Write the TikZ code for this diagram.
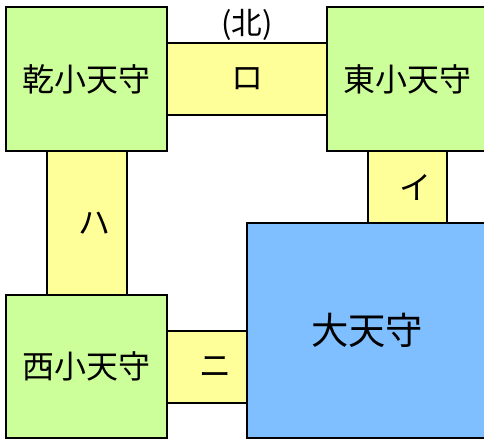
\documentclass[tikz,border=0pt]{standalone}
\usepackage{fontspec}
\newfontfamily\cjk{Noto Sans CJK JP}
\usepackage{xcolor}
\definecolor{keepgreen}{RGB}{204,255,153}
\definecolor{rokayellow}{RGB}{255,255,153}
\definecolor{daiblue}{RGB}{128,191,255}
\tikzset{
  keep/.style={draw=black,line width=1.5pt,inner sep=0pt,outer sep=0pt,font=\cjk\fontsize{24}{24}\selectfont},
  roka/.style={draw=black,line width=1.5pt,fill=rokayellow,inner sep=0pt,outer sep=0pt},
  lbl/.style={inner sep=0pt,font=\cjk\fontsize{24}{24}\selectfont}
}

\begin{document}
\begin{tikzpicture}[x=0.75pt,y=0.75pt,yscale=-1,xscale=1]
  \clip (0,0) rectangle (484,439);
  \fill[white] (0,0) rectangle (484,439);

  %Bridges
  \node[roka,minimum width=120pt,minimum height=54pt] (ro) at (247,79) {};
  \node[roka,minimum width=59.25pt,minimum height=54pt] (i) at (407.5,187) {};
  \node[roka,minimum width=60pt,minimum height=108pt] (ha) at (87,223) {};
  \node[roka,minimum width=60pt,minimum height=54pt] (ni) at (207,367) {};

  %Keeps
  \node[keep,fill=keepgreen,minimum width=120.75pt,minimum height=108pt] (inui) at (86.5,79) {乾小天守};
  \node[keep,fill=keepgreen,minimum width=120pt,minimum height=108pt] (higashi) at (407,79) {東小天守};
  \node[keep,fill=keepgreen,minimum width=120.75pt,minimum height=107.25pt] (nishi) at (86.5,366.5) {西小天守};
  \node[keep,fill=daiblue,minimum width=180pt,minimum height=161.25pt,font=\cjk\fontsize{28}{28}\selectfont] (dai) at (367,330.5) {大天守};

  % Text Node
  \node[lbl] (rolbl) at (247.5,79) {ロ};
  % Text Node
  \node[lbl] (ilbl) at (415,187) {イ};
  % Text Node
  \node[lbl] (halbl) at (94,223) {ハ};
  % Text Node
  \node[lbl] (nilbl) at (215,367) {ニ};
  % Text Node
  \node[lbl,font=\cjk\fontsize{23}{23}\selectfont] (kita) at (247,25) {(北)};
\end{tikzpicture}
\end{document}
